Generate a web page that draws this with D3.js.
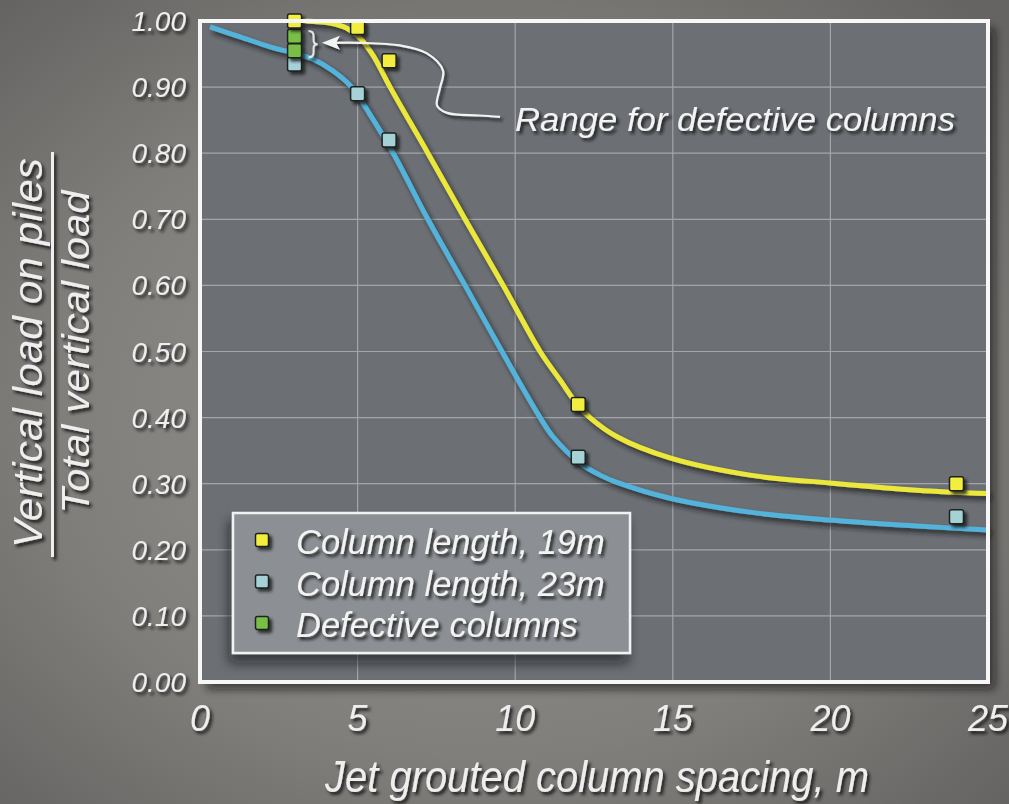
<!DOCTYPE html>
<html>
<head>
<meta charset="utf-8">
<script src="https://cdn.jsdelivr.net/npm/d3@7"></script>
<style>
  html, body { margin: 0; padding: 0; background: #7a7876; }
  svg { display: block; }
</style>
</head>
<body>
<svg id="chart" width="1009" height="804"></svg>
<script>
// ---- Data ----------------------------------------------------------------
const xTicks = [0, 5, 10, 15, 20, 25];
const yTicks = [0, 0.1, 0.2, 0.3, 0.4, 0.5, 0.6, 0.7, 0.8, 0.9, 1.0];
const yTickLabels = ["0.00", "0.10", "0.20", "0.30", "0.40", "0.50", "0.60", "0.70", "0.80", "0.90", "1.00"];

// Measured points
const spacing = [3, 5, 6, 12, 24];
const ratio19m = [1.00, 0.99, 0.94, 0.42, 0.30];
const ratio23m = [0.935, 0.89, 0.82, 0.34, 0.25];
const defectiveSpacing = [3, 3];
const defectiveRatio = [0.977, 0.955];

// Fitted trend curves
const fit19mX = [3.17, 4.12, 4.66, 5.08, 5.49, 6.03, 7.23, 8.41, 9.62, 10.79, 11.42, 12.0, 12.37, 13.23, 14.91, 17.45, 19.99, 22.75, 25];
const fit19mY = [1.000, 0.997, 0.989, 0.974, 0.948, 0.900, 0.800, 0.700, 0.600, 0.500, 0.457, 0.418, 0.400, 0.371, 0.339, 0.313, 0.301, 0.290, 0.285];
const fit23mX = [0.32, 1.27, 2.22, 3.1, 3.59, 4.2, 4.81, 5.4, 6.13, 7.23, 8.41, 9.58, 10.79, 11.2, 12.06, 12.69, 13.23, 14.91, 17.45, 19.99, 22.75, 25];
const fit23mY = [0.991, 0.976, 0.961, 0.950, 0.942, 0.925, 0.900, 0.858, 0.800, 0.700, 0.600, 0.500, 0.400, 0.371, 0.331, 0.313, 0.302, 0.278, 0.257, 0.245, 0.236, 0.230];

// Leader line of the "Range for defective columns" note (data units)
const noteLineX = [9.52, 8.86, 7.84, 7.52, 7.61, 7.71, 7.20, 6.35, 5.08, 3.87];
const noteLineY = [0.855, 0.857, 0.861, 0.872, 0.898, 0.925, 0.951, 0.963, 0.967, 0.967];

const legendLabels = ["Column length, 19m", "Column length, 23m", "Defective columns"];
const seriesColors = ["#f3ee3e", "#a6d2d5", "#79bf45"];
const curveColors = ["#ece83b", "#52b3db"];

// ---- Layout ----------------------------------------------------------------
const FONT = "'Liberation Sans', Arial, sans-serif";
const svg = d3.select("#chart");
const W = 1009, H = 804;
const x = d3.scaleLinear().domain([0, 25]).range([200, 988]);
const y = d3.scaleLinear().domain([0, 1]).range([682, 21]);

const defs = svg.append("defs");

const bg = defs.append("radialGradient").attr("id", "bgGrad")
  .attr("cx", "48%").attr("cy", "52%").attr("r", "70%");
bg.append("stop").attr("offset", "0%").attr("stop-color", "#93918e");
bg.append("stop").attr("offset", "60%").attr("stop-color", "#817f7c");
bg.append("stop").attr("offset", "100%").attr("stop-color", "#666462");

function shadow(id, dx, dy, sd, op) {
  const f = defs.append("filter").attr("id", id)
    .attr("filterUnits", "userSpaceOnUse")
    .attr("x", 0).attr("y", 0).attr("width", W).attr("height", H);
  f.append("feDropShadow").attr("dx", dx).attr("dy", dy).attr("stdDeviation", sd)
    .attr("flood-color", "#151515").attr("flood-opacity", op);
}
shadow("textShadow", 2.5, 3, 1.6, 0.9);
shadow("lineShadow", 3, 4, 2.5, 0.8);
shadow("boxShadow", 7, 7, 5, 0.65);
shadow("legendShadow", -3, 9, 6, 0.6);
shadow("markShadow", 3, 3, 1.8, 0.8);

svg.append("rect").attr("width", W).attr("height", H).attr("fill", "url(#bgGrad)");

// ---- Plot area ----------------------------------------------------------------
const [x0, x1] = x.range();
const [y0, y1] = [y(1), y(0)];
svg.append("rect")
  .attr("x", x0).attr("y", y0).attr("width", x1 - x0).attr("height", y1 - y0)
  .attr("fill", "#6c7074").attr("filter", "url(#boxShadow)");

const grid = svg.append("g").attr("stroke", "#a3a6a9").attr("stroke-width", 1.2);
grid.selectAll("line.v").data(xTicks.filter(t => t > 0 && t < 25)).join("line")
  .attr("x1", d => x(d)).attr("x2", d => x(d)).attr("y1", y0).attr("y2", y1);
grid.selectAll("line.h").data(yTicks.filter(t => t > 0 && t < 1)).join("line")
  .attr("x1", x0).attr("x2", x1).attr("y1", d => y(d)).attr("y2", d => y(d));

// ---- Fitted curves ----------------------------------------------------------------
const line = d3.line().x(d => x(d[0])).y(d => y(d[1])).curve(d3.curveCatmullRom.alpha(0.5));
const fits = [d3.zip(fit19mX, fit19mY), d3.zip(fit23mX, fit23mY)];
svg.append("g").selectAll("path").data(fits).join("path")
  .attr("d", line)
  .attr("fill", "none")
  .attr("stroke", (d, i) => curveColors[i])
  .attr("stroke-width", 5)
  .attr("stroke-linecap", "butt")
  .attr("filter", "url(#lineShadow)");

// ---- Markers ----------------------------------------------------------------
const MS = 14;
function markers(xs, ys, color) {
  svg.append("g").attr("filter", "url(#markShadow)")
    .selectAll("rect").data(d3.zip(xs, ys)).join("rect")
    .attr("x", d => x(d[0]) - MS / 2).attr("y", d => y(d[1]) - MS / 2)
    .attr("width", MS).attr("height", MS).attr("rx", 2)
    .attr("fill", color).attr("stroke", "#1d2222").attr("stroke-width", 1.5);
}
markers(spacing, ratio23m, seriesColors[1]);
markers(defectiveSpacing, defectiveRatio, seriesColors[2]);
markers(spacing, ratio19m, seriesColors[0]);

// Plot frame
svg.append("rect")
  .attr("x", x0).attr("y", y0).attr("width", x1 - x0).attr("height", y1 - y0)
  .attr("fill", "none").attr("stroke", "#f7f7f7").attr("stroke-width", 4);

// ---- Annotation ----------------------------------------------------------------
const note = svg.append("g").attr("filter", "url(#textShadow)");
// brace spanning the defective range
const bx = x(3) + 17, bt = y(0.985), bb = y(0.945), bm = (bt + bb) / 2;
note.append("path")
  .attr("d", `M${bx - 3},${bt} Q${bx + 2},${bt} ${bx + 2},${bt + 5} L${bx + 2},${bm - 4} Q${bx + 2},${bm} ${bx + 6},${bm} Q${bx + 2},${bm} ${bx + 2},${bm + 4} L${bx + 2},${bb - 5} Q${bx + 2},${bb} ${bx - 3},${bb}`)
  .attr("fill", "none").attr("stroke", "#e6e6e6").attr("stroke-width", 2);

const noteLine = d3.line().x(d => x(d[0])).y(d => y(d[1])).curve(d3.curveCatmullRom.alpha(0.5));
const notePts = d3.zip(noteLineX, noteLineY);
note.append("path").attr("d", noteLine(notePts.slice(0, -1).concat([[noteLineX[noteLineX.length - 1] + 0.35, noteLineY[noteLineY.length - 1]]])))
  .attr("fill", "none").attr("stroke", "#f2f2f2").attr("stroke-width", 2.2);
const tipX = x(noteLineX[noteLineX.length - 1]), tipY = y(noteLineY[noteLineY.length - 1]);
note.append("path")
  .attr("d", `M${tipX},${tipY} L${tipX + 18},${tipY - 7} L${tipX + 14},${tipY} L${tipX + 18},${tipY + 7} Z`)
  .attr("fill", "#f4f4f4");

note.append("text")
  .attr("x", 515).attr("y", 131)
  .attr("font-family", FONT).attr("font-style", "italic").attr("font-size", 34)
  .attr("textLength", 440).attr("lengthAdjust", "spacingAndGlyphs")
  .attr("fill", "#f3f3f3")
  .text("Range for defective columns");

// ---- Legend ----------------------------------------------------------------
const lg = svg.append("g");
lg.append("rect").attr("x", 233).attr("y", 513).attr("width", 397).attr("height", 140)
  .attr("fill", "#8c9094").attr("stroke", "#f2f2f2").attr("stroke-width", 2.5)
  .attr("filter", "url(#legendShadow)");
const rows = lg.selectAll("g.row").data(legendLabels).join("g")
  .attr("transform", (d, i) => `translate(0, ${i * 41.5})`);
rows.append("rect")
  .attr("x", 262 - 6.5).attr("y", 540 - 6.5).attr("width", 13).attr("height", 13).attr("rx", 2)
  .attr("fill", (d, i) => seriesColors[i]).attr("stroke", "#1d2222").attr("stroke-width", 1.5)
  .attr("filter", "url(#markShadow)");
rows.append("text")
  .attr("x", 296).attr("y", 554)
  .attr("font-family", FONT).attr("font-style", "italic").attr("font-size", 34.5)
  .attr("fill", "#f3f3f3").attr("filter", "url(#textShadow)")
  .text(d => d);

// ---- Axes ----------------------------------------------------------------
const axText = svg.append("g").attr("font-family", FONT).attr("font-style", "italic")
  .attr("fill", "#eeeeee").attr("filter", "url(#textShadow)");

axText.selectAll("text.yt").data(yTicks).join("text")
  .attr("x", 186).attr("y", d => y(d) + 10)
  .attr("text-anchor", "end").attr("font-size", 28)
  .text((d, i) => yTickLabels[i]);

axText.selectAll("text.xt").data(xTicks).join("text")
  .attr("x", d => x(d)).attr("y", 731)
  .attr("text-anchor", "middle").attr("font-size", 36)
  .text(d => d);

axText.append("text")
  .attr("x", 597).attr("y", 792).attr("text-anchor", "middle")
  .attr("font-size", 44).attr("textLength", 544).attr("lengthAdjust", "spacingAndGlyphs")
  .text("Jet grouted column spacing, m");

// y title as a fraction
axText.append("text")
  .attr("transform", "translate(42,353) rotate(-90)")
  .attr("text-anchor", "middle").attr("font-size", 40)
  .attr("textLength", 390).attr("lengthAdjust", "spacingAndGlyphs")
  .text("Vertical load on piles");
axText.append("text")
  .attr("transform", "translate(89,352) rotate(-90)")
  .attr("text-anchor", "middle").attr("font-size", 38)
  .attr("textLength", 323).attr("lengthAdjust", "spacingAndGlyphs")
  .text("Total vertical load");
axText.append("rect")
  .attr("x", 51).attr("y", 152).attr("width", 3).attr("height", 405)
  .attr("fill", "#efefef");
</script>
</body>
</html>
